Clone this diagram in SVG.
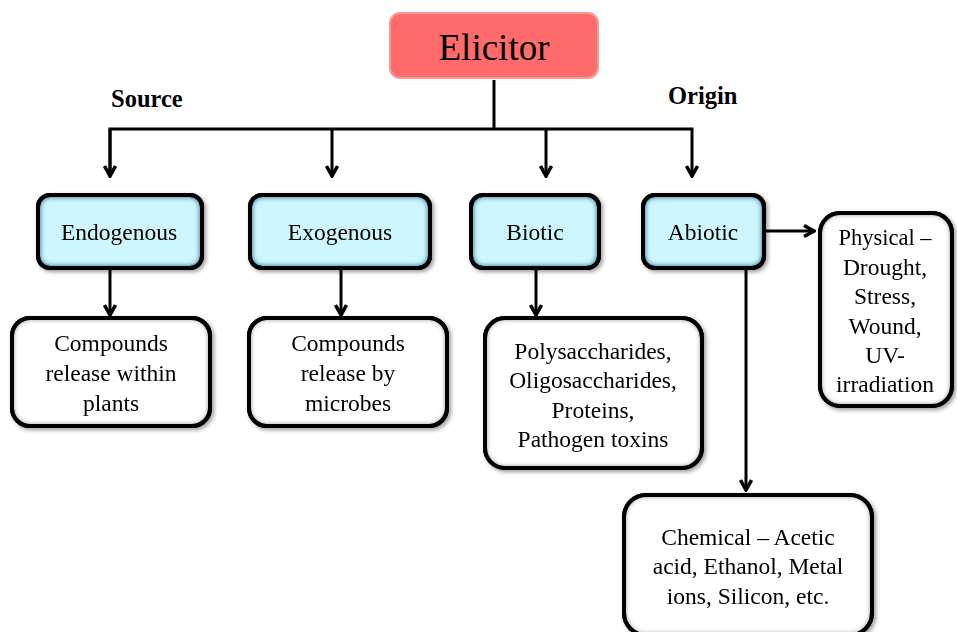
<svg xmlns="http://www.w3.org/2000/svg" width="957" height="632" viewBox="0 0 957 632">
<defs>
<style>
text{font-family:"Liberation Serif","Times New Roman",serif;fill:#000;text-anchor:middle}
.t{font-size:23.5px}
.lbl{font-size:24.5px;font-weight:bold;text-anchor:start}
.blue{fill:#CDF6FF;stroke:#000;stroke-width:4}
.white{fill:#fff;stroke:#000;stroke-width:4}
.glowb{fill:none;stroke:#4f8fa8;stroke-width:6;filter:url(#blur)}
.gloww{fill:none;stroke:#9a9a9a;stroke-width:4;filter:url(#blur)}
.c{fill:none;stroke:#000;stroke-width:3}
</style>
<filter id="blur" x="-10%" y="-10%" width="120%" height="120%"><feGaussianBlur stdDeviation="2.2"/></filter>
<filter id="sh" x="-10%" y="-10%" width="130%" height="130%"><feGaussianBlur in="SourceAlpha" stdDeviation="2"/><feOffset dx="2" dy="2"/><feComponentTransfer><feFuncA type="linear" slope="0.4"/></feComponentTransfer><feMerge><feMergeNode/><feMergeNode in="SourceGraphic"/></feMerge></filter>
<clipPath id="cb1"><rect x="38" y="195" width="164" height="73" rx="12"/></clipPath>
<clipPath id="cb2"><rect x="250" y="195" width="180" height="73" rx="12"/></clipPath>
<clipPath id="cb3"><rect x="471" y="195" width="128" height="73" rx="12"/></clipPath>
<clipPath id="cb4"><rect x="643" y="195" width="121" height="73" rx="12"/></clipPath>
<clipPath id="cw1"><rect x="12" y="318" width="198" height="108" rx="18"/></clipPath>
<clipPath id="cw2"><rect x="249" y="318" width="198" height="108" rx="18"/></clipPath>
<clipPath id="cw3"><rect x="485" y="318" width="217" height="150" rx="20"/></clipPath>
<clipPath id="cw4"><rect x="820" y="213" width="132" height="193" rx="20"/></clipPath>
<clipPath id="cw5"><rect x="624" y="495" width="248" height="140" rx="22"/></clipPath>
<marker id="ah" viewBox="0 0 14 14" refX="12" refY="7" markerWidth="14" markerHeight="14" markerUnits="userSpaceOnUse" orient="auto">
<path d="M2,1.5 L12,7 L2,12.5" fill="none" stroke="#000" stroke-width="3.5" stroke-linejoin="miter"/>
</marker>
</defs>
<rect width="957" height="632" fill="#fff"/>

<g id="connectors">
<path class="c" d="M494,80 V129"/>
<path class="c" d="M110,176 V129 H692 V176" marker-end="url(#ah)"/>
<path class="c" d="M110,129 V176" marker-end="url(#ah)"/>
<path class="c" d="M332,129 V176" marker-end="url(#ah)"/>
<path class="c" d="M546,129 V176" marker-end="url(#ah)"/>
<path class="c" d="M110,268 V315" marker-end="url(#ah)"/>
<path class="c" d="M341,268 V315" marker-end="url(#ah)"/>
<path class="c" d="M536,268 V315" marker-end="url(#ah)"/>
<path class="c" d="M746,268 V490" marker-end="url(#ah)"/>
<path class="c" d="M764,231 H814" marker-end="url(#ah)"/>
</g>

<g id="elicitor">
<rect x="390" y="13" width="208" height="65" rx="10" fill="#FF6B6B" stroke="#F59A9A" stroke-width="2"/>
<text x="494" y="60" style="font-size:37px">Elicitor</text>
</g>

<g id="label-source"><text class="lbl" x="111" y="107">Source</text></g>
<g id="label-origin"><text class="lbl" x="668" y="104">Origin</text></g>

<g id="endogenous" filter="url(#sh)">
<rect class="blue" x="38" y="195" width="164" height="73" rx="12"/>
<rect class="glowb" x="38" y="195" width="164" height="73" rx="12" clip-path="url(#cb1)"/>
<rect x="38" y="195" width="164" height="73" rx="12" fill="none" stroke="#000" stroke-width="4"/>
<text class="t" x="119" y="240">Endogenous</text>
</g>
<g id="exogenous" filter="url(#sh)">
<rect class="blue" x="250" y="195" width="180" height="73" rx="12"/>
<rect class="glowb" x="250" y="195" width="180" height="73" rx="12" clip-path="url(#cb2)"/>
<rect x="250" y="195" width="180" height="73" rx="12" fill="none" stroke="#000" stroke-width="4"/>
<text class="t" x="340" y="240">Exogenous</text>
</g>
<g id="biotic" filter="url(#sh)">
<rect class="blue" x="471" y="195" width="128" height="73" rx="12"/>
<rect class="glowb" x="471" y="195" width="128" height="73" rx="12" clip-path="url(#cb3)"/>
<rect x="471" y="195" width="128" height="73" rx="12" fill="none" stroke="#000" stroke-width="4"/>
<text class="t" x="535" y="240">Biotic</text>
</g>
<g id="abiotic" filter="url(#sh)">
<rect class="blue" x="643" y="195" width="121" height="73" rx="12"/>
<rect class="glowb" x="643" y="195" width="121" height="73" rx="12" clip-path="url(#cb4)"/>
<rect x="643" y="195" width="121" height="73" rx="12" fill="none" stroke="#000" stroke-width="4"/>
<text class="t" x="703" y="240">Abiotic</text>
</g>

<g id="within-plants" filter="url(#sh)">
<rect class="white" x="12" y="318" width="198" height="108" rx="18"/>
<rect class="gloww" x="12" y="318" width="198" height="108" rx="18" clip-path="url(#cw1)"/>
<rect x="12" y="318" width="198" height="108" rx="18" fill="none" stroke="#000" stroke-width="4"/>
<text class="t" x="111" y="351">Compounds</text>
<text class="t" x="111" y="381">release within</text>
<text class="t" x="111" y="411">plants</text>
</g>
<g id="by-microbes" filter="url(#sh)">
<rect class="white" x="249" y="318" width="198" height="108" rx="18"/>
<rect class="gloww" x="249" y="318" width="198" height="108" rx="18" clip-path="url(#cw2)"/>
<rect x="249" y="318" width="198" height="108" rx="18" fill="none" stroke="#000" stroke-width="4"/>
<text class="t" x="348" y="351">Compounds</text>
<text class="t" x="348" y="381">release by</text>
<text class="t" x="348" y="411">microbes</text>
</g>
<g id="biotic-list" filter="url(#sh)">
<rect class="white" x="485" y="318" width="217" height="150" rx="20"/>
<rect class="gloww" x="485" y="318" width="217" height="150" rx="20" clip-path="url(#cw3)"/>
<rect x="485" y="318" width="217" height="150" rx="20" fill="none" stroke="#000" stroke-width="4"/>
<text class="t" x="593" y="359">Polysaccharides,</text>
<text class="t" x="593" y="388">Oligosaccharides,</text>
<text class="t" x="593" y="418">Proteins,</text>
<text class="t" x="593" y="447">Pathogen toxins</text>
</g>
<g id="physical" filter="url(#sh)">
<rect class="white" x="820" y="213" width="132" height="193" rx="20"/>
<rect class="gloww" x="820" y="213" width="132" height="193" rx="20" clip-path="url(#cw4)"/>
<rect x="820" y="213" width="132" height="193" rx="20" fill="none" stroke="#000" stroke-width="4"/>
<text class="t" x="885" y="245" style="font-size:22.5px">Physical –</text>
<text class="t" x="885" y="275">Drought,</text>
<text class="t" x="885" y="304">Stress,</text>
<text class="t" x="885" y="334">Wound,</text>
<text class="t" x="885" y="363">UV-</text>
<text class="t" x="885" y="392">irradiation</text>
</g>
<g id="chemical" filter="url(#sh)">
<rect class="white" x="624" y="495" width="248" height="140" rx="22"/>
<rect class="gloww" x="624" y="495" width="248" height="140" rx="22" clip-path="url(#cw5)"/>
<rect x="624" y="495" width="248" height="140" rx="22" fill="none" stroke="#000" stroke-width="4"/>
<text class="t" x="748" y="545">Chemical – Acetic</text>
<text class="t" x="748" y="574">acid, Ethanol, Metal</text>
<text class="t" x="748" y="604">ions, Silicon,  etc.</text>
</g>
</svg>
